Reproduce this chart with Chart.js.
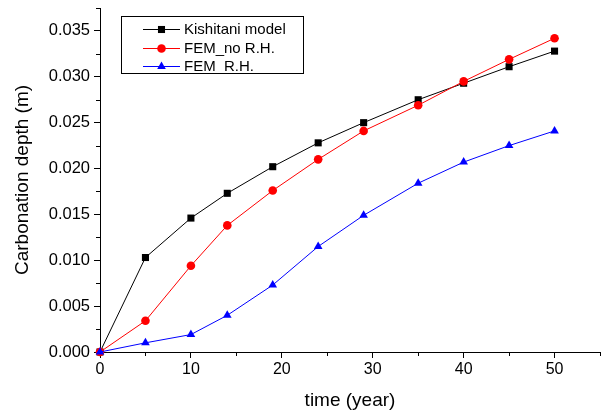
<!DOCTYPE html>
<html>
<head>
<meta charset="utf-8">
<script src="https://cdn.jsdelivr.net/npm/chart.js@4.4.1/dist/chart.umd.min.js"></script>
<style>
  html, body { margin: 0; padding: 0; background: #fff; }
  #wrap { width: 605px; height: 414px; }
</style>
</head>
<body>
<div id="wrap"><canvas id="myChart" width="605" height="414"></canvas></div>
<script>
// data (time in years, depth in m)
var years = [0, 5, 10, 14, 19, 24, 29, 35, 40, 45, 50];
var kishitani = [0, 0.0103, 0.0146, 0.0173, 0.0202, 0.0228, 0.0250, 0.0275, 0.0293, 0.0311, 0.0328];
var femNoRH = [0, 0.0034, 0.0094, 0.0138, 0.0176, 0.0210, 0.0241, 0.0269, 0.0295, 0.0319, 0.0342];
var femRH = [0, 0.0010, 0.0019, 0.0040, 0.0073, 0.0115, 0.0149, 0.0184, 0.0207, 0.0225, 0.0241];

var xTicks = [0, 10, 20, 30, 40, 50];
var yTicks = [0, 0.005, 0.010, 0.015, 0.020, 0.025, 0.030, 0.035];
var xMinor = [5, 15, 25, 35, 45, 55];
var yMinor = [0.0025, 0.0075, 0.0125, 0.0175, 0.0225, 0.0275, 0.0325, 0.0375];

function pts(ys) {
    return years.map(function (x, i) { return { x: x, y: ys[i] }; });
}

var font = "'Liberation Sans', Arial, sans-serif";

// minor ticks + boxed legend inside the plot
var extras = {
    id: 'extras',
    afterDraw: function (chart) {
        var ctx = chart.ctx;
        var xs = chart.scales.x, ys = chart.scales.y;
        var area = chart.chartArea;
        ctx.save();
        ctx.strokeStyle = '#000';
        ctx.lineWidth = 1;
        ctx.beginPath();
        xMinor.forEach(function (v) {
            var px = Math.round(xs.getPixelForValue(v)) + 0.5;
            ctx.moveTo(px, area.bottom);
            ctx.lineTo(px, area.bottom + 4);
        });
        yMinor.forEach(function (v) {
            var py = Math.round(ys.getPixelForValue(v)) + 0.5;
            ctx.moveTo(area.left, py);
            ctx.lineTo(area.left - 4, py);
        });
        ctx.stroke();

        // legend
        ctx.strokeRect(121.5, 16.5, 182, 57);
        var rows = [29, 48, 66];
        ctx.font = "normal 400 15px 'Liberation Sans', Arial, sans-serif";
        chart.data.datasets.forEach(function (ds, i) {
            var y = rows[i];
            ctx.strokeStyle = ds.borderColor;
            ctx.beginPath();
            ctx.moveTo(143, y + 0.5);
            ctx.lineTo(180, y + 0.5);
            ctx.stroke();
            ctx.fillStyle = ds.pointBackgroundColor;
            var cx = 161.5, r = ds.pointRadius;
            ctx.beginPath();
            if (ds.pointStyle === 'rect') {
                var s = r * Math.SQRT1_2;
                ctx.rect(cx - s, y + 0.5 - s, 2 * s, 2 * s);
            } else if (ds.pointStyle === 'circle') {
                ctx.arc(cx, y + 0.5, r, 0, Math.PI * 2);
            } else {
                ctx.moveTo(cx, y + 0.5 - r);
                ctx.lineTo(cx + r * 0.866, y + 0.5 + r / 2);
                ctx.lineTo(cx - r * 0.866, y + 0.5 + r / 2);
                ctx.closePath();
            }
            ctx.fill();
            ctx.fillStyle = '#000';
            ctx.textBaseline = 'middle';
            ctx.textAlign = 'left';
            ctx.fillText(ds.label, 184, y + 1);
        });
        ctx.restore();
    }
};

function noEdgePadding(scale) {
    scale.paddingTop = 0;
    scale.paddingBottom = 0;
    scale.paddingLeft = 0;
    scale.paddingRight = 0;
}

var ctx = document.getElementById('myChart').getContext('2d');
var currentChart = new Chart(ctx, {
    type: 'scatter',
    data: {
        datasets: [{
            label: 'Kishitani model',
            data: pts(kishitani),
            showLine: true,
            borderColor: '#000000',
            backgroundColor: '#000000',
            pointBackgroundColor: '#000000',
            pointBorderWidth: 0,
            pointStyle: 'rect',
            pointRadius: 5,
            borderWidth: 1,
            order: 3,
            clip: false
        }, {
            label: 'FEM_no R.H.',
            data: pts(femNoRH),
            showLine: true,
            borderColor: '#ff0000',
            backgroundColor: '#ff0000',
            pointBackgroundColor: '#ff0000',
            pointBorderWidth: 0,
            pointStyle: 'circle',
            pointRadius: 4.3,
            borderWidth: 1,
            order: 2,
            clip: false
        }, {
            label: 'FEM_R.H.',
            data: pts(femRH),
            showLine: true,
            borderColor: '#0000ff',
            backgroundColor: '#0000ff',
            pointBackgroundColor: '#0000ff',
            pointBorderWidth: 0,
            pointStyle: 'triangle',
            pointRadius: 5,
            borderWidth: 1,
            order: 1,
            clip: false
        }]
    },
    options: {
        responsive: false,
        animation: false,
        layout: { padding: { top: 8, right: 3, left: 0, bottom: 0 } },
        plugins: {
            legend: { display: false },
            tooltip: { enabled: false }
        },
        scales: {
            x: {
                type: 'linear',
                min: 0,
                max: 55,
                afterBuildTicks: function (scale) {
                    scale.ticks = xTicks.map(function (v) { return { value: v }; });
                },
                afterFit: function (scale) { scale.height = 62; noEdgePadding(scale); },
                border: { display: true, color: '#000', width: 1 },
                grid: { display: true, drawOnChartArea: false, drawTicks: true, tickLength: 6, color: '#000' },
                ticks: {
                    color: '#000',
                    padding: 2,
                    maxRotation: 0,
                    font: { family: font, size: 16 },
                    callback: function (v) { return String(v); }
                },
                title: {
                    display: true,
                    text: 'time (year)',
                    color: '#000',
                    font: { family: font, size: 19 },
                    padding: { top: 0, bottom: 2 }
                }
            },
            y: {
                type: 'linear',
                min: 0,
                max: 0.0375,
                afterBuildTicks: function (scale) {
                    scale.ticks = yTicks.map(function (v) { return { value: v }; });
                },
                afterFit: function (scale) { scale.width = 100; noEdgePadding(scale); },
                border: { display: true, color: '#000', width: 1 },
                grid: { display: true, drawOnChartArea: false, drawTicks: true, tickLength: 6, color: '#000' },
                ticks: {
                    color: '#000',
                    padding: 4,
                    font: { family: font, size: 16.5 },
                    callback: function (v) { return Number(v).toFixed(3); }
                },
                title: {
                    display: true,
                    text: 'Carbonation depth (m)',
                    color: '#000',
                    font: { family: font, size: 19 },
                    padding: { top: 11, bottom: 0 }
                }
            }
        }
    },
    plugins: [extras]
});
</script>
</body>
</html>
